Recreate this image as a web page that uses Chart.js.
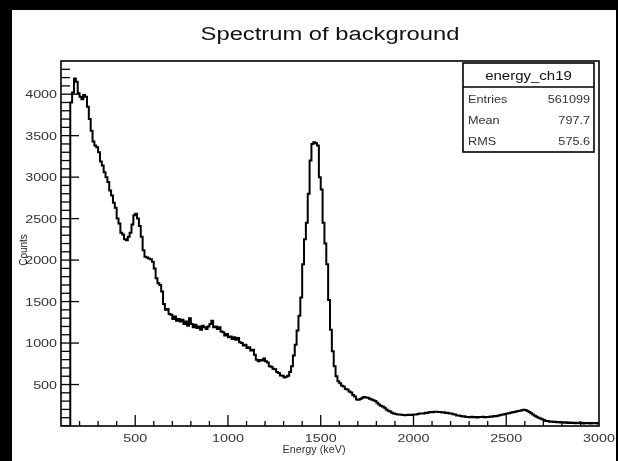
<!DOCTYPE html>
<html>
<head>
<meta charset="utf-8">
<title>Spectrum of background</title>
<script src="https://cdn.jsdelivr.net/npm/chart.js@4"></script>
<style>
    html, body { margin: 0; padding: 0; background: #000; }
    #panel { position: absolute; left: 12px; top: 10px; width: 604px; height: 451px; background: #fff; }
    #wrap { position: absolute; left: 0; top: 0; width: 618px; height: 461px; }
</style>
</head>
<body>
<div id="panel"></div>
<div id="wrap"><canvas id="spectrum" width="618" height="461"></canvas></div>
<script>
// Histogram energy_ch19, 10 keV bins starting at 150 keV
const binStart = 150;
const binWidth = 10;
const counts = [
    3900, 4020, 4190, 4150, 4010, 3970, 3940, 3990, 3970, 3850,   // 150 - 240
    3700, 3560, 3430, 3380, 3360, 3300, 3190, 3140, 3060, 3000,   // 250 - 340
    2940, 2840, 2780, 2690, 2630, 2500, 2440, 2330, 2310, 2250,   // 350 - 440
    2240, 2280, 2330, 2430, 2540, 2560, 2500, 2410, 2280, 2120,   // 450 - 540
    2040, 2030, 2020, 2010, 1980, 1900, 1780, 1720, 1700, 1620,   // 550 - 640
    1470, 1400, 1410, 1350, 1340, 1290, 1320, 1270, 1290, 1260,   // 650 - 740
    1280, 1230, 1260, 1210, 1300, 1230, 1190, 1220, 1180, 1200,   // 750 - 840
    1160, 1210, 1190, 1170, 1200, 1230, 1270, 1190, 1200, 1170,   // 850 - 940
    1190, 1140, 1130, 1090, 1110, 1070, 1080, 1050, 1070, 1040,   // 950 - 1040
    1060, 1010, 1000, 970, 980, 940, 950, 910, 920, 860,          // 1050 - 1140
    800, 780, 795, 790, 815, 780, 765, 720, 715, 690,             // 1150 - 1240
    685, 650, 640, 610, 605, 585, 595, 605, 650, 720,             // 1250 - 1340
    850, 980, 1150, 1330, 1550, 1950, 2250, 2450, 2800, 3200,     // 1350 - 1440
    3400, 3420, 3410, 3380, 3000, 2850, 2450, 2200, 1950, 1520,   // 1450 - 1540
    1160, 900, 720, 600, 540, 515, 485, 475, 445, 440,            // 1550 - 1640
    415, 405, 375, 355, 320, 315, 325, 340, 350, 345,             // 1650 - 1740
    340, 330, 320, 310, 300, 280, 260, 245, 235, 220,             // 1750 - 1840
    200, 185, 175, 160, 150, 145, 140, 138, 135, 132,             // 1850 - 1940
    130, 133, 135, 134, 136, 138, 140, 145, 150, 152,             // 1950 - 2040
    152, 160, 158, 167, 170, 165, 171, 173, 168, 170,             // 2050 - 2140
    163, 165, 158, 160, 152, 151, 143, 140, 128, 127,             // 2150 - 2240
    122, 116, 117, 108, 110, 106, 112, 104, 108, 103,             // 2250 - 2340
    110, 108, 113, 104, 110, 107, 115, 112, 120, 119,             // 2350 - 2440
    125, 130, 135, 140, 145, 150, 155, 160, 165, 170,             // 2450 - 2540
    175, 180, 185, 190, 195, 192, 180, 168, 155, 140,             // 2550 - 2640
    125, 112, 100, 90, 80, 72, 60, 61, 52, 55,                    // 2650 - 2740
    47, 52, 45, 49, 42, 46, 40, 44, 37, 42,                       // 2750 - 2840
    36, 40, 33, 39, 35, 38, 31, 37, 34, 36,                       // 2850 - 2940
    30, 37, 33, 35, 31                                            // 2950 - 2990
];
const xTickLabels = [500, 1000, 1500, 2000, 2500, 3000];
const yTickLabels = [500, 1000, 1500, 2000, 2500, 3000, 3500, 4000];
const statsName = 'energy_ch19';
const statsLabels = ['Entries', 'Mean', 'RMS'];
const statsValues = ['561099', '797.7', '575.6'];

// step points: empty below threshold, one point per bin left edge, closing point at the axis end
const points = [{ x: 100, y: 0 }];
counts.forEach((c, i) => points.push({ x: binStart + i * binWidth, y: c }));
points.push({ x: 3000, y: counts[counts.length - 1] });

const FONT = '"Liberation Sans", Arial, Helvetica, sans-serif';

function stretchText(ctx, text, x, y, align, size, sx) {
    ctx.save();
    ctx.font = size + 'px ' + FONT;
    ctx.translate(x, y);
    ctx.scale(sx, 1);
    ctx.textAlign = align;
    ctx.textBaseline = 'alphabetic';
    ctx.fillText(text, 0, 0);
    ctx.restore();
}

// ROOT-style frame, inward ticks, labels and stats box
const rootFrame = {
    id: 'rootFrame',
    afterDraw(chart) {
        const ctx = chart.ctx;
        const area = chart.chartArea;
        const xs = chart.scales.x;
        const ys = chart.scales.y;

        ctx.save();
        ctx.strokeStyle = '#000';
        ctx.lineWidth = 1.6;
        ctx.strokeRect(area.left, area.top, area.right - area.left, area.bottom - area.top);

        // x ticks
        ctx.lineWidth = 1.3;
        for (let v = 200; v < 3000; v += 100) {
            const px = xs.getPixelForValue(v);
            const len = v % 500 === 0 ? 11 : 5;
            ctx.beginPath();
            ctx.moveTo(px, area.bottom);
            ctx.lineTo(px, area.bottom - len);
            ctx.stroke();
        }
        // y ticks
        for (let v = 100; v < 4400; v += 100) {
            const py = ys.getPixelForValue(v);
            const len = v % 500 === 0 ? 18 : 9;
            ctx.beginPath();
            ctx.moveTo(area.left, py);
            ctx.lineTo(area.left + len, py);
            ctx.stroke();
        }

        // tick labels
        ctx.fillStyle = '#333';
        xTickLabels.forEach(v => {
            stretchText(ctx, String(v), xs.getPixelForValue(v), area.bottom + 16, 'center', 11, 1.3);
        });
        yTickLabels.forEach(v => {
            stretchText(ctx, String(v), area.left - 4, ys.getPixelForValue(v) + 4, 'right', 11, 1.3);
        });

        // axis titles
        stretchText(ctx, 'Energy (keV)', 314, 453, 'center', 10, 1.08);
        ctx.save();
        ctx.translate(27, 250);
        ctx.rotate(-Math.PI / 2);
        ctx.fillStyle = '#222';
        stretchText(ctx, 'Counts', 0, 0, 'center', 10.5, 0.95);
        ctx.restore();

        // title
        ctx.fillStyle = '#111';
        stretchText(ctx, 'Spectrum of background', 330, 40, 'center', 18, 1.32);

        // stats box
        const bx = 463, by = 63, bw = 131, bh = 89, hh = 24;
        ctx.fillStyle = '#fff';
        ctx.fillRect(bx, by, bw, bh);
        ctx.strokeStyle = '#000';
        ctx.lineWidth = 1.6;
        ctx.strokeRect(bx, by, bw, bh);
        ctx.beginPath();
        ctx.moveTo(bx, by + hh);
        ctx.lineTo(bx + bw, by + hh);
        ctx.stroke();
        ctx.fillStyle = '#111';
        stretchText(ctx, statsName, bx + bw / 2, by + 17, 'center', 12, 1.25);
        ctx.fillStyle = '#333';
        statsLabels.forEach((lab, i) => {
            const yy = by + hh + 16 + i * 21;
            stretchText(ctx, lab, bx + 5, yy, 'left', 11, 1.15);
            stretchText(ctx, statsValues[i], bx + bw - 4, yy, 'right', 11, 1.15);
        });
        ctx.restore();
    }
};

const spectrumChart = new Chart(document.getElementById('spectrum'), {
    type: 'line',
    data: {
        datasets: [{
            label: statsName,
            data: points,
            borderColor: '#000',
            borderWidth: 2,
            stepped: 'before',
            pointRadius: 0,
            fill: false
        }]
    },
    options: {
        responsive: false,
        animation: false,
        layout: {
            padding: { top: 61, right: 19, left: 0, bottom: 0 }
        },
        plugins: {
            legend: { display: false },
            tooltip: { enabled: false }
        },
        scales: {
            x: {
                type: 'linear',
                min: 100,
                max: 3000,
                afterBuildTicks: s => { s.ticks = xTickLabels.map(v => ({ value: v })); },
                afterFit: s => { s.height = 35; },
                ticks: { display: false },
                grid: { display: false },
                border: { display: false }
            },
            y: {
                min: 0,
                max: 4400,
                afterBuildTicks: s => { s.ticks = yTickLabels.map(v => ({ value: v })); },
                afterFit: s => { s.width = 61; },
                ticks: { display: false },
                grid: { display: false },
                border: { display: false }
            }
        }
    },
    plugins: [rootFrame]
});
</script>
</body>
</html>
